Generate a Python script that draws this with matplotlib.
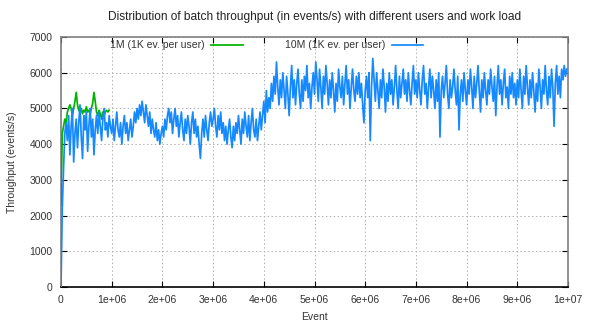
import numpy as np
import matplotlib
matplotlib.use("Agg")
import matplotlib.pyplot as plt
from matplotlib.lines import Line2D

title = "Distribution of batch throughput (in events/s) with different users and work load"
xlabel = "Event"
ylabel = "Throughput (events/s)"
label_1m = "1M (1K ev. per user)"
label_10m = "10M (1K ev. per user)"

step_blue = 25000
step_green = 25000

green_1m = [2300, 4300, 4500, 4700, 4600, 4900, 5000, 5100, 5000, 4800,
            5000, 5200, 5450, 5100, 4950, 4900, 5000, 4850, 4950, 4900,
            5050, 4900, 4950, 4850, 5000, 5150, 5450, 5200, 4900, 4800,
            4950, 4850, 4700, 4900, 4800, 4900, 4950, 4900, 4950]

blue_10m = [
    # 0 - 1e6
    0, 2200, 3300, 4300, 4600, 4100, 4800, 3700, 4500, 5000,
    3500, 4300, 4700, 3900, 4600, 5100, 4200, 3600, 4800, 4400,
    4900, 3800, 4500, 5000, 4200, 4700, 3700, 4400, 4800, 4300,
    4900, 4500, 4100, 4700, 5000, 4400, 4600, 4200, 4800, 4500,
    # 1e6 - 2e6
    4300, 4700, 4100, 4500, 4900, 4400, 4200, 4600, 4000, 4500,
    4800, 4300, 4600, 4100, 4400, 4700, 4200, 4500, 4900, 4600,
    5000, 4700, 5100, 4800, 5200, 4900, 4600, 5100, 4800, 4500,
    4900, 4300, 4700, 4400, 4200, 4600, 4100, 4400, 4000, 4300,
    # 2e6 - 3e6
    4500, 4200, 4700, 4400, 4800, 5000, 4600, 4900, 4300, 4700,
    5000, 4500, 4800, 4200, 4600, 4900, 4400, 4100, 4700, 4300,
    4800, 4500, 4000, 4600, 4900, 4300, 4700, 4200, 4500, 4000,
    3600, 4300, 4700, 4200, 4800, 4400, 4100, 4600, 4900, 4500,
    # 3e6 - 4e6
    4700, 5000, 4500, 4200, 4800, 4400, 4900, 4300, 4600, 4100,
    4500, 4000, 4400, 4700, 4200, 3900, 4500, 4100, 4600, 4300,
    4800, 4400, 4000, 4700, 4300, 4900, 4500, 4200, 4800, 4100,
    4600, 5000, 4400, 4200, 4700, 4100, 4500, 4900, 4400, 4800,
    # 4e6 - 5e6
    5200, 4600, 5500, 4900, 5300, 5000, 5700, 5200, 5900, 5400,
    6300, 5600, 5100, 5800, 5300, 6000, 5500, 5000, 5900, 5400,
    4800, 5600, 6200, 5300, 5800, 5100, 5700, 6100, 5400, 5000,
    5800, 5200, 5900, 5500, 6200, 5300, 5700, 5000, 5600, 6000,
    # 5e6 - 6e6
    5400, 6300, 5800, 5200, 6100, 5600, 5000, 5900, 5400, 6200,
    5700, 5100, 5800, 5300, 6000, 5500, 4900, 5700, 5200, 6100,
    5600, 5300, 5900, 5100, 5700, 6200, 5400, 5800, 5000, 5600,
    6100, 5500, 5200, 5900, 5400, 6000, 5300, 5700, 5100, 4600,
    # 6e6 - 7e6
    5500, 5900, 5300, 6000, 4100, 5600, 6400, 5800, 5200, 6000,
    5500, 5000, 5800, 5300, 6100, 5600, 4900, 5700, 5200, 6000,
    5400, 5800, 5100, 5600, 6200, 5500, 5000, 5900, 5300, 5700,
    6100, 5400, 5800, 5200, 6000, 5500, 5100, 5700, 6200, 5400,
    # 7e6 - 8e6
    5800, 5300, 6000, 5500, 5100, 5800, 6200, 5400, 5700, 5000,
    5600, 6100, 5300, 5900, 5500, 5000, 5800, 5200, 6000, 4200,
    5500, 5900, 5300, 5700, 6200, 5400, 5000, 5800, 5300, 5600,
    6100, 5500, 5100, 5900, 4400, 5400, 5800, 5200, 6000, 5500,
    # 8e6 - 9e6
    5100, 5800, 5400, 6100, 5600, 5000, 5900, 5300, 5700, 6200,
    5500, 4900, 5800, 5300, 6000, 5500, 5100, 5800, 5400, 6100,
    5600, 5200, 5900, 4800, 5600, 6200, 5400, 5800, 5100, 5700,
    6100, 5300, 5600, 5000, 5900, 5400, 6000, 5300, 5700, 5100,
    # 9e6 - 1e7
    5800, 5300, 6100, 5500, 5000, 5900, 5400, 6200, 5600, 5100,
    5800, 5300, 6000, 5500, 4900, 5700, 5200, 6100, 5600, 5000,
    5800, 5400, 6200, 5500, 5100, 5900, 5300, 6100, 5600, 4500,
    5700, 6200, 5400, 5900, 5300, 6100, 5800, 6200, 5900, 6100,
]

xticks = [0, 1e6, 2e6, 3e6, 4e6, 5e6, 6e6, 7e6, 8e6, 9e6, 1e7]
xticklabels = ["0", "1e+06", "2e+06", "3e+06", "4e+06", "5e+06",
               "6e+06", "7e+06", "8e+06", "9e+06", "1e+07"]
yticks = [0, 1000, 2000, 3000, 4000, 5000, 6000, 7000]

plt.rcParams['font.family'] = ['Liberation Sans', 'DejaVu Sans']
W, H = 589, 327
fig = plt.figure(figsize=(W / 100, H / 100), dpi=100)
L, R, T, B = 61, 568, 37, 287
ax = fig.add_axes([L / W, 1 - B / H, (R - L) / W, (B - T) / H])

x_green = np.arange(len(green_1m)) * step_green
x_blue = np.arange(len(blue_10m)) * step_blue
green_col = '#00b400'
blue_col = '#1589ff'
ax.plot(x_green, green_1m, color=green_col, lw=1.25, zorder=3)
ax.plot(x_blue, blue_10m, color=blue_col, lw=1.25, zorder=4)

ax.set_xlim(0, 1e7)
ax.set_ylim(0, 7000)
ax.set_xticks(xticks)
ax.set_xticklabels(xticklabels)
ax.set_yticks(yticks)
ax.tick_params(direction='in', length=4, width=0.8, top=True, right=True,
               labelsize=7.5, labelcolor='#333333', color='black', pad=6)
ax.grid(True, color='#b0b0b0', linestyle=(0, (1.5, 2.5)), linewidth=0.7)
for s in ['left', 'top', 'right']:
    ax.spines[s].set_color('#808080')
    ax.spines[s].set_linewidth(1.2)
ax.spines['bottom'].set_color('black')
ax.spines['bottom'].set_linewidth(1.2)

ax.set_xlabel(xlabel, fontsize=7.5, color='#333333', labelpad=5)
ax.set_ylabel(ylabel, fontsize=7.5, color='#333333', labelpad=9)
fig.text(((L + R) / 2) / W, 1 - 17 / H, title, ha='center', va='center',
         fontsize=8.6, color='#222222')

# gnuplot-style key
ky = 1 - 45 / H
fig.text(205 / W, ky, label_1m, ha='right', va='center', fontsize=7.5, color='#333333')
fig.add_artist(Line2D([211 / W, 243 / W], [ky, ky], color=green_col, lw=1.25))
fig.text(385 / W, ky, label_10m, ha='right', va='center', fontsize=7.5, color='#333333')
fig.add_artist(Line2D([392 / W, 423 / W], [ky, ky], color=blue_col, lw=1.25))

fig.savefig('out.png', dpi=100, facecolor='white')
